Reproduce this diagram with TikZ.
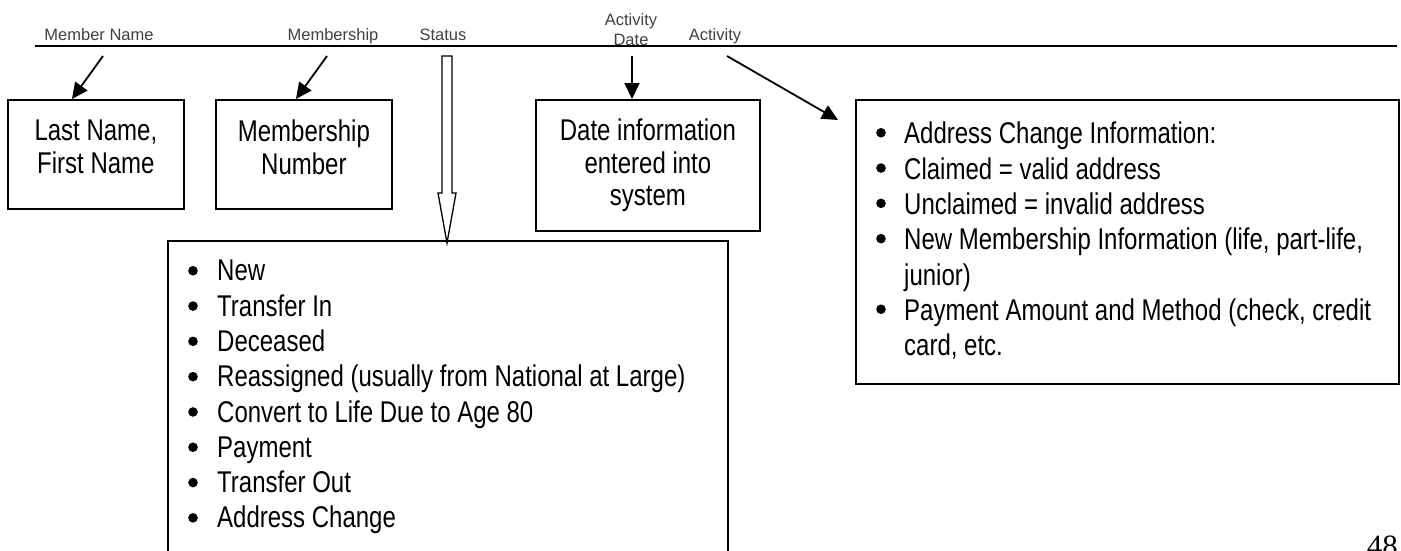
\documentclass[tikz,border=0pt]{standalone}
\usepackage{fontspec}
\setmainfont{Liberation Sans}
\newfontfamily\boxfont[FakeStretch=0.8]{Liberation Sans}
\newfontfamily\numfont{Liberation Serif}
\usetikzlibrary{arrows.meta,calc}
\begin{document}
\begin{tikzpicture}[x=1pt,y=-1pt,
  hdr/.style={font=\fontsize{16.5}{20}\selectfont, text=black!75, inner sep=0pt},
  box/.style={draw, line width=1.8pt, rectangle, inner sep=0pt, anchor=north west},
  boxtxt/.style={font=\boxfont\fontsize{30}{32.5}\selectfont, inner sep=0pt, align=center, anchor=north},
  listtxt/.style={font=\boxfont\fontsize{30}{35.3}\selectfont, inner sep=0pt, align=left, anchor=north west},
  arr/.style={line width=1.8pt, -{Triangle[length=16pt,width=15pt]}},
  hollow/.style={line width=1.3pt, line join=miter, fill=white},
]
\useasboundingbox (0,0) rectangle (1401,550);

% header labels and rule
\node[hdr, anchor=base] (h1) at (99,40) {Member Name};
\node[hdr, anchor=base] (h2) at (333,40) {Membership};
\node[hdr, anchor=base] (h3) at (443,40) {Status};
\node[hdr, anchor=base] (h4a) at (631,25) {Activity};
\node[hdr, anchor=base] (h4b) at (631,45) {Date};
\node[hdr, anchor=base] (h5) at (715,40) {Activity};
\draw[line width=1.4pt] (35,46) -- (1397,46);

% boxes
\node[box, minimum width=176pt, minimum height=109pt] (b1) at (7,99) {};
\node[box, minimum width=176pt, minimum height=109pt] (b2) at (215,99) {};
\node[box, minimum width=224pt, minimum height=131pt] (b4) at (535,99) {};
\node[box, minimum width=543pt, minimum height=284pt] (b5) at (855,99) {};
\node[box, minimum width=560pt, minimum height=330pt] (b3) at (167,240) {};

% box texts
\node[boxtxt] (t1) at ($(b1.north)+(0,21)$) {Last Name,\\First Name};
\node[boxtxt] (t2) at ($(b2.north)+(0,21)$) {Membership\\Number};
\node[boxtxt] (t4) at ($(b4.north)+(0,20)$) {Date information\\entered into\\system};
\node[listtxt] (t3) at ($(b3.north west)+(50,20)$) {New\\Transfer In\\Deceased\\Reassigned (usually from National at Large)\\Convert to Life Due to Age 80\\Payment\\Transfer Out\\Address Change};
\node[listtxt] (t5) at ($(b5.north west)+(49,23)$) {Address Change Information:\\Claimed = valid address\\Unclaimed = invalid address\\New Membership Information (life, part-life,\\junior)\\Payment Amount and Method (check, credit\\card, etc.};

% bullets
\foreach \k in {0,...,7} \fill ($(t3.north west)+(-24,10.75+35.3*\k)$) circle (4.8pt);
\foreach \k in {0,1,2,3,5} \fill ($(t5.north west)+(-23,10.75+35.3*\k)$) circle (4.8pt);

% arrows
\coordinate (a1) at (103,56);
\coordinate (a2) at (327,56);
\coordinate (a4) at (632,56);
\coordinate (a5) at (727,56);
\draw[arr] (a1) -- ($(b1.north west)+(65,0)$);
\draw[arr] (a2) -- ($(b2.north west)+(81,0)$);
\draw[arr] (a4) -- ($(b4.north west)+(97,0)$);
\draw[arr] (a5) -- ($(b5.north west)+(-17,21)$);

% hollow block arrow from Status
\coordinate (sa) at (447,56);
\coordinate (sb) at ($(b3.north west)+(280,3)$);
\draw[hollow] ($(sa)+(-5,0)$) -- ($(sa)+(5,0)$) -- ($(sb)+(5,-50)$) -- ($(sb)+(9,-50)$)
  -- (sb) -- ($(sb)+(-9,-50)$) -- ($(sb)+(-5,-50)$) -- cycle;

% page number (cut off)
\node[font=\numfont\fontsize{31}{31}\selectfont, inner sep=0pt, anchor=north east] (pg) at (1398,536) {48};
\end{tikzpicture}
\end{document}
